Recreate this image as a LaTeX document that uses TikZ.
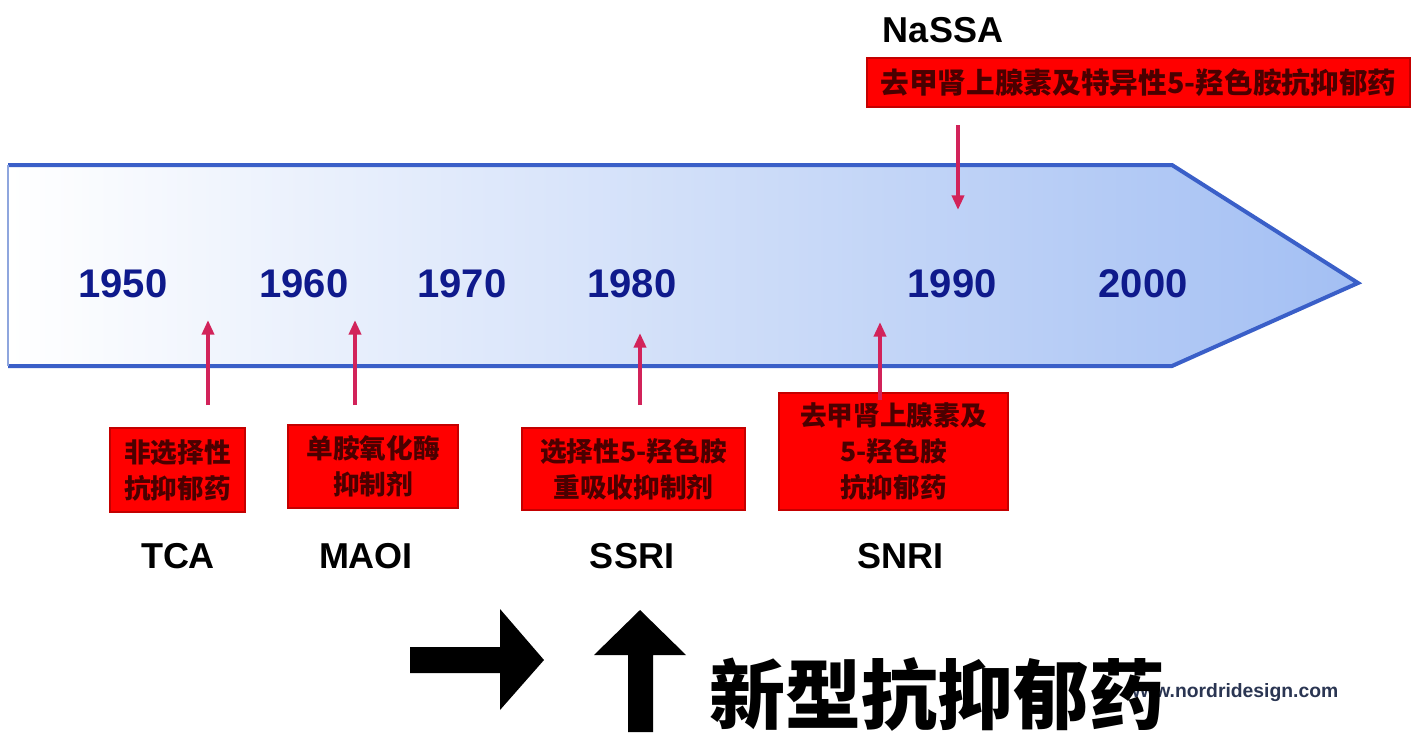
\documentclass[tikz,border=0pt]{standalone}
\usepackage{fontspec}
\setmainfont{Liberation Sans}
\newfontfamily\cjk{Noto Sans CJK SC}
\usetikzlibrary{arrows.meta}
\definecolor{tlblue}{HTML}{3A5FC8}
\definecolor{tledge}{HTML}{8FA6DE}
\definecolor{tllight}{HTML}{A3BFF3}
\definecolor{tlmid}{HTML}{DCE5FA}
\definecolor{yearblue}{HTML}{0F1A8C}
\definecolor{pinkarrow}{HTML}{D2235A}
\definecolor{boxred}{HTML}{FF0000}
\definecolor{boxedge}{HTML}{C40000}
\definecolor{boxtext}{HTML}{4A0000}
\definecolor{urlcol}{HTML}{2A3552}
\tikzset{
  year/.style={font=\bfseries\fontsize{30}{30}\selectfont, text=yearblue, inner sep=0pt},
  drug/.style={font=\bfseries\fontsize{27}{27}\selectfont, text=black, inner sep=0pt},
  redbox/.style={fill=boxred, draw=boxedge, line width=0.8pt, align=center, inner sep=0pt,
     text=boxtext, font=\cjk\bfseries\fontsize{20}{27}\selectfont},
  pinkarr/.style={draw=pinkarrow, line width=3pt, -{Triangle[length=11pt,width=9pt]}},
  blackarr/.style={fill=black}
}
\begin{document}
\begin{tikzpicture}[x=0.75pt,y=-0.75pt]
\useasboundingbox (0,0) rectangle (1412,736);
\fill[white] (0,0) rectangle (1412,736);
% timeline arrow
\shade[left color=white, middle color=tlmid, right color=tllight] (8,165) -- (1172,165) -- (1358,283) -- (1172,366) -- (8,366) -- cycle;
\draw[tlblue, line width=3pt, line join=miter] (8,165) -- (1172,165) -- (1358,283) -- (1172,366) -- (8,366);
\draw[tledge, line width=1.2pt] (8,165) -- (8,366);
% years
\node[year] (y1950) at (123,284) {1950};
\node[year] (y1960) at (304,284) {1960};
\node[year] (y1970) at (462,284) {1970};
\node[year] (y1980) at (632,284) {1980};
\node[year] (y1990) at (952,284) {1990};
\node[year] (y2000) at (1143,284) {2000};
% red boxes
\node[redbox, minimum width=101.25pt, minimum height=63pt] (tcabox) at (177.5,470) {非选择性\\抗抑郁药};
\node[redbox, minimum width=127.5pt, minimum height=62.25pt] (maoibox) at (373,466.5) {单胺氧化酶\\抑制剂};
\node[redbox, minimum width=167.25pt, minimum height=61.5pt] (ssribox) at (633.5,469) {选择性5-羟色胺\\重吸收抑制剂};
\node[redbox, minimum width=171.75pt, minimum height=87.75pt] (snribox) at (893.5,451.5) {去甲肾上腺素及\\5-羟色胺\\抗抑郁药};
\node[redbox, minimum width=407.25pt, minimum height=36.75pt, font=\cjk\bfseries\fontsize{21.5}{26}\selectfont] (nassabox) at (1138.5,82.5) {去甲肾上腺素及特异性5-羟色胺抗抑郁药};
% drug labels
\node[drug] (tca) at (178,556) {TCA};
\node[drug] (maoi) at (366,556) {MAOI};
\node[drug] (ssri) at (632,556) {SSRI};
\node[drug] (snri) at (900,556) {SNRI};
\node[drug] (nassa) at (943,30) {NaSSA};
% pink arrows
\coordinate (tcaS) at (208,405); \coordinate (tcaT) at (208,320);
\coordinate (maoiS) at (355,405); \coordinate (maoiT) at (355,320);
\coordinate (ssriS) at (640,405); \coordinate (ssriT) at (640,333);
\coordinate (snriS) at (880,400); \coordinate (snriT) at (880,322);
\coordinate (nassaS) at (958,125); \coordinate (nassaT) at (958,210);
\draw[pinkarr] (tcaS) -- (tcaT);
\draw[pinkarr] (maoiS) -- (maoiT);
\draw[pinkarr] (ssriS) -- (ssriT);
\draw[pinkarr] (snriS) -- (snriT);
\draw[pinkarr] (nassaS) -- (nassaT);
% bottom black arrows
\fill[blackarr] (410,647) -- (500,647) -- (500,609) -- (544,660) -- (500,710) -- (500,673) -- (410,673) -- cycle;
\fill[blackarr] (640,610) -- (686,655) -- (653,655) -- (653,732) -- (628,732) -- (628,655) -- (594,655) -- cycle;
% url and title
\node[font=\bfseries\fontsize{14.5}{15}\selectfont, text=urlcol, anchor=west, inner sep=0pt] (url) at (1125,693) {www.nordridesign.com};
\node[font=\cjk\bfseries\fontsize{57}{57}\selectfont, text=black, inner sep=0pt] (title) at (937,694) {新型抗抑郁药};
\end{tikzpicture}
\end{document}
